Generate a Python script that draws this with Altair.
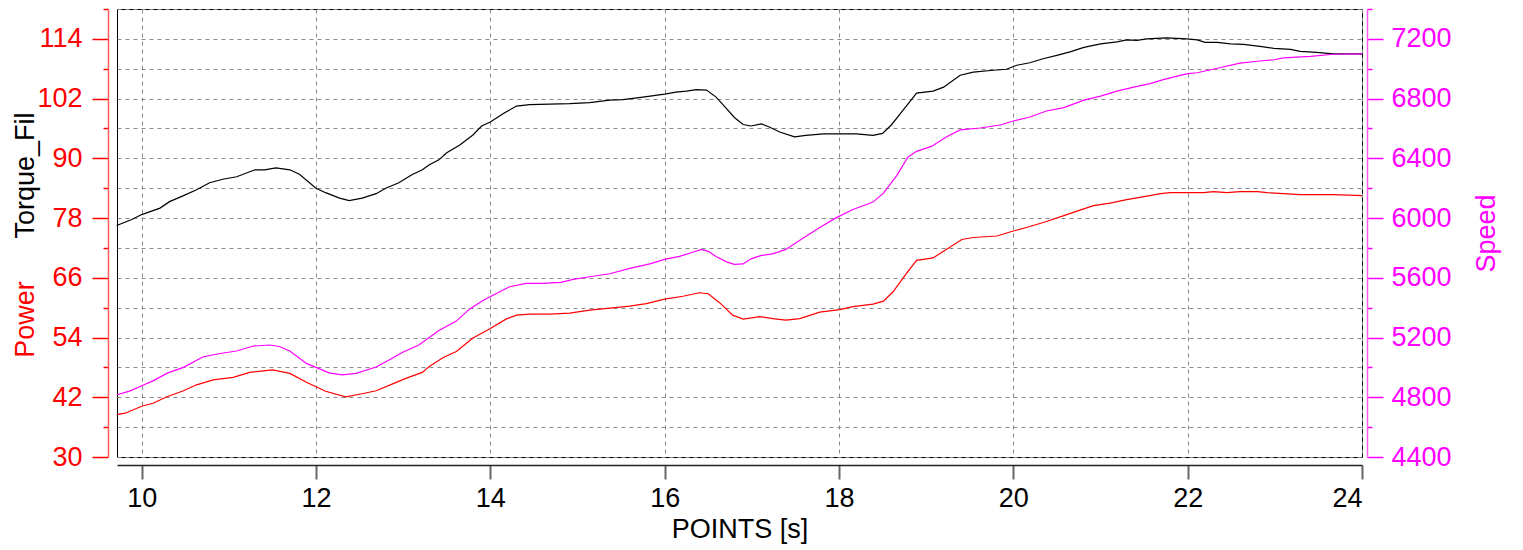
import altair as alt
import pandas as pd

# ---- data ----
t_torque = [9.714, 9.886, 10.0, 10.21, 10.32, 10.48, 10.63, 10.78, 10.93, 11.09, 11.30, 11.41, 11.54,
            11.70, 11.81, 12.0, 12.11, 12.27, 12.38, 12.53, 12.69, 12.80, 12.95, 13.10, 13.22, 13.30,
            13.41, 13.50, 13.65, 13.80, 13.90, 14.0, 14.15, 14.30, 14.45, 14.68, 14.91, 15.14, 15.37,
            15.52, 15.75, 16.0, 16.13, 16.25, 16.36, 16.48, 16.59, 16.71, 16.80, 16.90, 16.99, 17.11,
            17.20, 17.32, 17.49, 17.62, 17.82, 18.01, 18.20, 18.39, 18.50, 18.60, 18.74, 18.89, 19.08,
            19.20, 19.39, 19.54, 19.77, 19.92, 20.04, 20.19, 20.34, 20.50, 20.65, 20.81, 21.0, 21.19,
            21.30, 21.42, 21.53, 21.76, 21.99, 22.11, 22.20, 22.34, 22.49, 22.64, 22.83, 22.99, 23.18,
            23.29, 23.48, 23.67, 24.0]
torque = [76.5, 77.7, 78.7, 80.0, 81.3, 82.5, 83.7, 85.1, 85.8, 86.3, 87.7, 87.7, 88.1,
          87.7, 86.8, 84.0, 83.1, 82.0, 81.5, 82.0, 82.9, 84.0, 85.1, 86.7, 87.7, 88.7,
          89.7, 91.1, 92.7, 94.7, 96.5, 97.3, 99.0, 100.5, 100.8, 100.9, 101.0, 101.2, 101.7,
          101.8, 102.3, 102.9, 103.3, 103.5, 103.8, 103.7, 102.3, 100.0, 98.2, 96.8, 96.5, 96.9,
          96.3, 95.3, 94.3, 94.6, 94.9, 94.9, 94.9, 94.6, 95.0, 96.7, 99.8, 103.1, 103.5,
          104.3, 106.7, 107.3, 107.7, 107.9, 108.7, 109.2, 110.0, 110.7, 111.4, 112.3, 113.0, 113.4,
          113.8, 113.7, 114.0, 114.2, 114.0, 113.8, 113.3, 113.3, 113.0, 112.9, 112.5, 112.1, 111.9,
          111.5, 111.3, 111.0, 111.0]

t_power = [9.714, 9.81, 10.0, 10.13, 10.29, 10.48, 10.63, 10.82, 11.05, 11.24, 11.50, 11.70, 11.89,
           12.11, 12.34, 12.53, 12.69, 12.88, 13.03, 13.22, 13.30, 13.46, 13.61, 13.80, 13.99, 14.18,
           14.30, 14.45, 14.68, 14.91, 15.14, 15.37, 15.60, 15.79, 16.0, 16.21, 16.40, 16.50, 16.63,
           16.78, 16.90, 17.09, 17.24, 17.39, 17.55, 17.78, 18.01, 18.16, 18.39, 18.51, 18.62, 18.77,
           18.89, 19.08, 19.23, 19.41, 19.54, 19.81, 20.0, 20.19, 20.38, 20.58, 20.73, 20.92, 21.11,
           21.30, 21.50, 21.69, 21.80, 22.0, 22.18, 22.30, 22.45, 22.60, 22.80, 22.91, 23.10, 23.29,
           23.67, 24.0]
power = [38.5, 38.8, 40.2, 40.8, 42.1, 43.3, 44.5, 45.5, 46.0, 47.0, 47.5, 46.8, 45.0,
         43.2, 42.1, 42.7, 43.3, 44.7, 45.8, 47.0, 48.2, 50.0, 51.2, 53.9, 55.7, 57.7,
         58.5, 58.7, 58.7, 58.9, 59.5, 59.9, 60.3, 60.8, 61.7, 62.3, 63.0, 62.8, 61.0,
         58.5, 57.7, 58.2, 57.8, 57.5, 57.8, 59.1, 59.6, 60.2, 60.7, 61.3, 63.2, 66.8,
         69.5, 70.0, 71.7, 73.7, 74.1, 74.4, 75.4, 76.3, 77.3, 78.5, 79.4, 80.5, 81.0,
         81.7, 82.3, 82.9, 83.1, 83.1, 83.1, 83.3, 83.1, 83.3, 83.3, 83.1, 82.9, 82.7,
         82.7, 82.5]

t_speed = [9.714, 9.87, 10.0, 10.13, 10.30, 10.48, 10.70, 10.90, 11.09, 11.28, 11.47, 11.58, 11.70,
           11.89, 12.0, 12.15, 12.30, 12.46, 12.69, 12.88, 12.99, 13.18, 13.41, 13.61, 13.76, 13.92,
           14.03, 14.22, 14.41, 14.60, 14.81, 14.95, 15.14, 15.37, 15.60, 15.83, 16.0, 16.17, 16.33,
           16.42, 16.50, 16.59, 16.71, 16.80, 16.90, 16.99, 17.11, 17.24, 17.39, 17.59, 17.78, 17.97,
           18.16, 18.39, 18.51, 18.66, 18.79, 18.89, 19.06, 19.23, 19.39, 19.62, 19.85, 20.0, 20.19,
           20.38, 20.58, 20.81, 21.0, 21.19, 21.38, 21.57, 21.72, 21.88, 22.0, 22.11, 22.34, 22.60,
           22.80, 22.99, 23.10, 23.41, 23.67, 24.0]
speed = [4817, 4843, 4877, 4910, 4963, 5000, 5070, 5093, 5110, 5143, 5150, 5140, 5110,
         5027, 5000, 4963, 4950, 4960, 5003, 5063, 5100, 5150, 5247, 5310, 5390, 5450,
         5483, 5540, 5563, 5563, 5570, 5590, 5607, 5627, 5663, 5693, 5723, 5743, 5773,
         5790, 5777, 5743, 5707, 5690, 5693, 5727, 5750, 5760, 5790, 5867, 5937, 6003,
         6057, 6107, 6167, 6283, 6407, 6447, 6480, 6543, 6590, 6603, 6623, 6650, 6677,
         6717, 6740, 6790, 6817, 6850, 6877, 6900, 6927, 6950, 6967, 6973, 7003, 7037,
         7050, 7060, 7073, 7083, 7097, 7100]

x_ticks = [10, 12, 14, 16, 18, 20, 22, 24]
left_ticks = list(range(30, 121, 6))
right_ticks = list(range(4400, 7401, 200))

FONT = "Liberation Sans"
FS = 27
RED = "#ff0000"
MAG = "#ff00ff"

df_t = pd.DataFrame({"t": t_torque, "v": torque})
df_p = pd.DataFrame({"t": t_power, "v": power})
df_s = pd.DataFrame({"t": t_speed, "v": speed})

x_enc = alt.X(
    "t:Q",
    scale=alt.Scale(domain=[9.717, 24], nice=False, zero=False),
    axis=alt.Axis(
        title="POINTS [s]", values=x_ticks, offset=8, tickSize=14, tickWidth=2,
        tickColor="#666666", domainColor="#222222", domainWidth=1.5,
        labelColor="black", labelFontSize=FS, labelFont=FONT, labelPadding=6,
        titleFontSize=FS, titleFont=FONT, titleFontWeight="normal", titleColor="black",
        titlePadding=5, grid=True, gridDash=[4, 4], gridColor="#888888", gridWidth=1,
    ),
)

power_layer = alt.Chart(df_p).mark_line(color=RED, strokeWidth=1.2).encode(
    x=x_enc,
    y=alt.Y(
        "v:Q",
        scale=alt.Scale(domain=[30, 120], nice=False, zero=False),
        axis=alt.Axis(
            orient="left", title="Power", values=left_ticks, offset=9,
            labelExpr="datum.value % 12 == 6 ? datum.label : ''",
            tickSize={"condition": {"test": "datum.value % 12 == 6", "value": 16}, "value": 5},
            tickColor=RED, tickWidth=1.5, domainColor="#ff5a5a", domainWidth=1.5,
            labelColor=RED, labelFontSize=FS, labelFont=FONT, labelPadding=10,
            titleColor=RED, titleFontSize=FS, titleFont=FONT, titleFontWeight="normal",
            titleAngle=270, titleBaseline="alphabetic", titleAlign="center",
            titleX=-75, titleY=310,
            grid=True, gridDash=[4, 4], gridColor="#888888", gridWidth=1,
        ),
    ),
)

torque_layer = alt.Chart(df_t).mark_line(color="black", strokeWidth=1.2).encode(
    x=x_enc,
    y=alt.Y(
        "v:Q",
        scale=alt.Scale(domain=[30, 120], nice=False, zero=False),
        axis=alt.Axis(
            orient="left", title="Torque_Fil", offset=9, labels=False, ticks=False,
            domain=False, grid=False,
            titleColor="black", titleFontSize=FS, titleFont=FONT, titleFontWeight="normal",
            titleAngle=270, titleBaseline="alphabetic", titleAlign="center",
            titleX=-75, titleY=166,
        ),
    ),
)

speed_layer = alt.Chart(df_s).mark_line(color=MAG, strokeWidth=1.2).encode(
    x=x_enc,
    y=alt.Y(
        "v:Q",
        scale=alt.Scale(domain=[4400, 7400], nice=False, zero=False),
        axis=alt.Axis(
            orient="right", title="Speed", values=right_ticks, offset=5, format="d",
            labelExpr="datum.value % 400 == 0 ? datum.label : ''",
            tickSize={"condition": {"test": "datum.value % 400 == 0", "value": 16}, "value": 5},
            tickColor=MAG, tickWidth=1.5, domainColor="#ff5aff", domainWidth=1.5,
            labelColor=MAG, labelFontSize=FS, labelFont=FONT, labelPadding=8,
            titleColor=MAG, titleFontSize=FS, titleFont=FONT, titleFontWeight="normal",
            titleAngle=270, titleBaseline="alphabetic", titleAlign="center",
            titleX=127, titleY=224, grid=False,
        ),
    ),
)

chart = (
    alt.layer(power_layer, torque_layer, speed_layer)
    .resolve_scale(y="independent")
    .properties(
        width=1245,
        height=448,
        autosize=alt.AutoSizeParams(type="none"),
        padding={"left": 109, "top": 1, "right": 153, "bottom": 92},
        background="white",
    )
    .configure_view(stroke="black", strokeWidth=1)
)

chart.save("out.html", embed_options={"renderer": "svg", "actions": False})
